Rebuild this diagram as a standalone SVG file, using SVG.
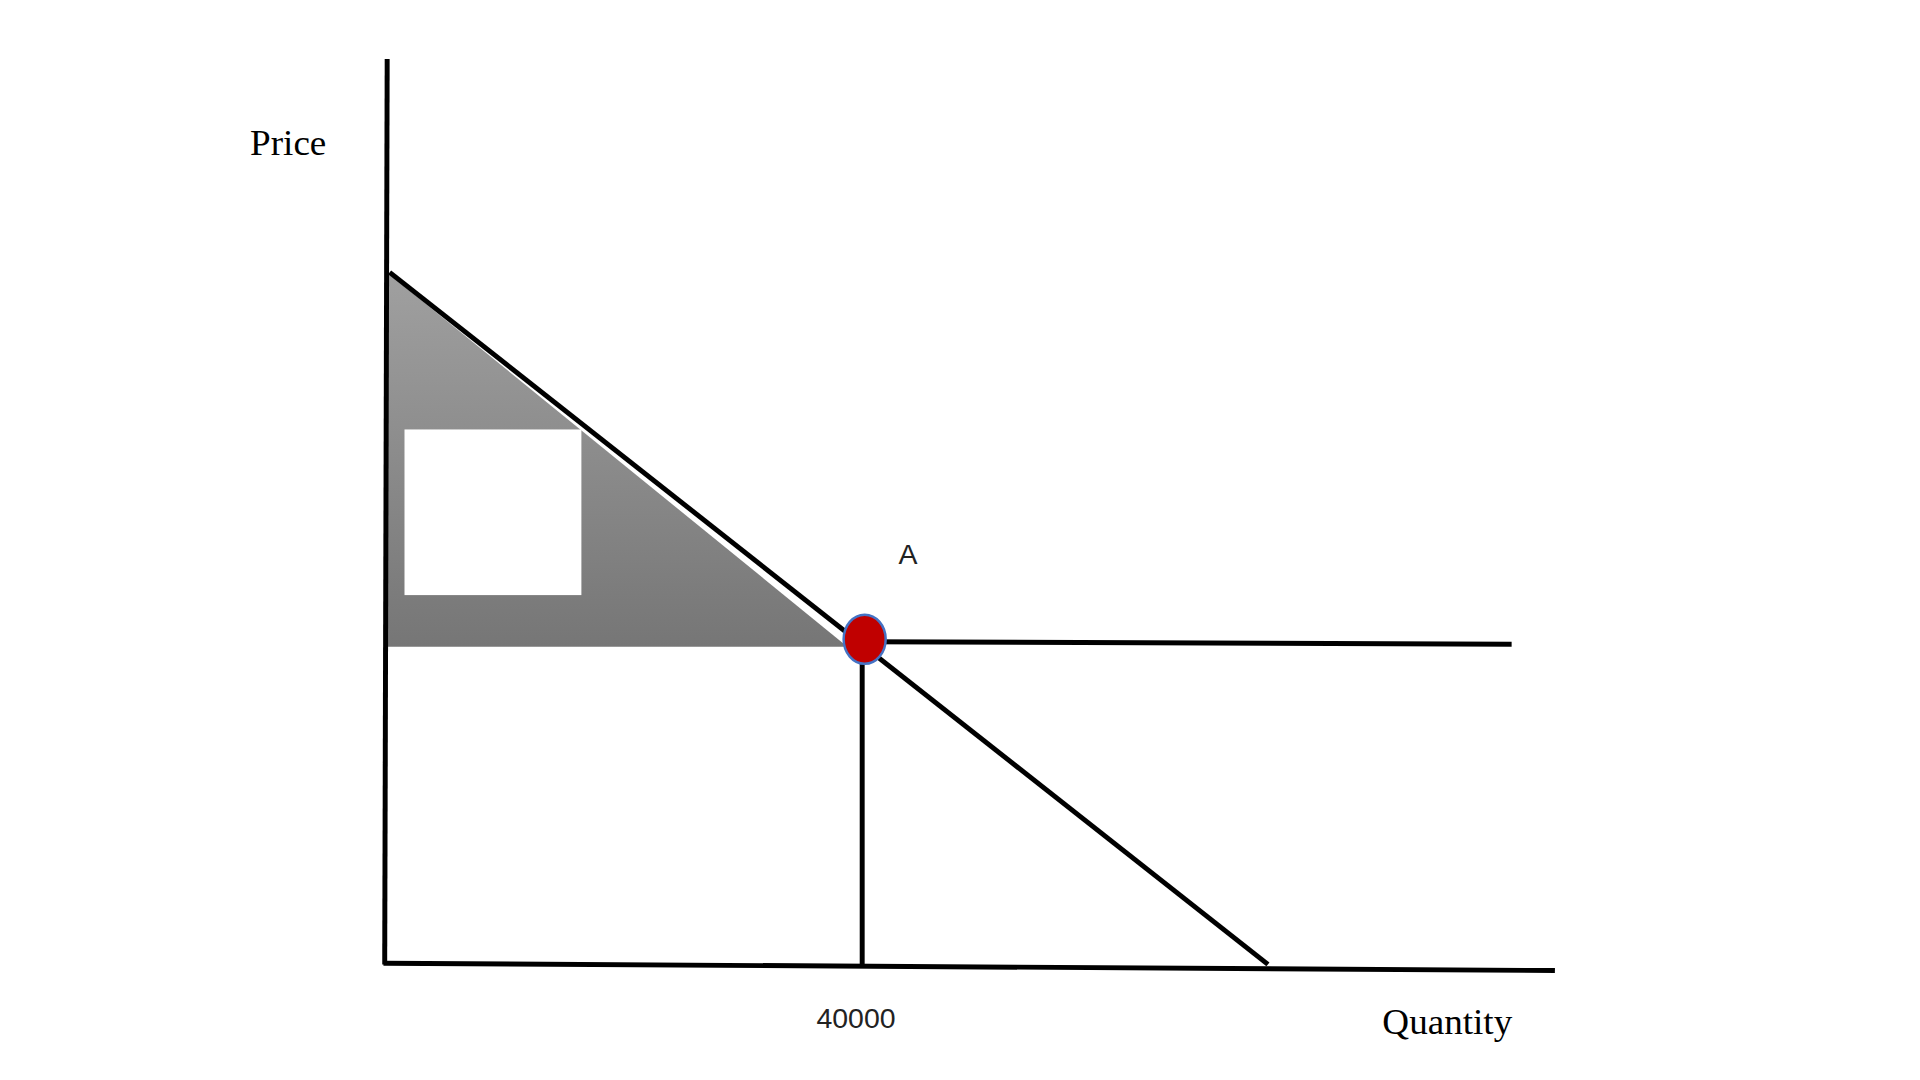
<svg xmlns="http://www.w3.org/2000/svg" width="1920" height="1080" viewBox="0 0 1920 1080">
<defs>
<linearGradient id="g" x1="0" y1="0" x2="0" y2="1"><stop offset="0" stop-color="#a0a0a0"/><stop offset="1" stop-color="#767676"/></linearGradient>
<style>.l{stroke:#000;stroke-width:4;fill:none}.s{font-family:"Liberation Serif",serif;font-size:30px}.a{font-family:"Liberation Sans",sans-serif;font-size:23px;fill:#222}</style>
</defs>
<rect width="1920" height="1080" fill="#fff"/>
<g transform="scale(1.237,1.227)">
<g id="surplus"><polygon points="313,222 685,527 313,527" fill="url(#g)"/><rect x="327" y="350" width="143" height="135" fill="#fff"/></g>
<g id="connectors">
<line class="l" x1="313" y1="48" x2="311" y2="786"/>
<line class="l" x1="310" y1="785" x2="1257" y2="791"/>
<line class="l" x1="315" y1="222" x2="1025" y2="786"/>
<line class="l" x1="700" y1="523" x2="1222" y2="525"/>
<line class="l" x1="697" y1="530" x2="697" y2="786"/>
</g>
<g id="pointA"><ellipse cx="699" cy="521" rx="17" ry="20" fill="#c00000" stroke="#4472c4" stroke-width="2"/><text class="a" x="734" y="460" text-anchor="middle">A</text></g>
<g id="labels">
<text class="s" x="233" y="126" text-anchor="middle">Price</text>
<text class="s" x="1170" y="843" text-anchor="middle">Quantity</text>
<text class="a" x="692" y="838" text-anchor="middle">40000</text>
</g>
</g>
</svg>
